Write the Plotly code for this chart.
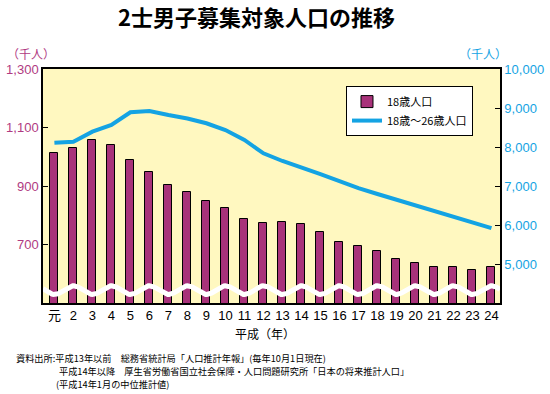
import numpy as np
import plotly.graph_objects as go

# ---- data ----
years = ["元", "2", "3", "4", "5", "6", "7", "8", "9", "10", "11", "12",
         "13", "14", "15", "16", "17", "18", "19", "20", "21", "22", "23", "24"]
pop18 = [1012, 1030, 1056, 1040, 990, 949, 902, 880, 848, 824, 787, 773,
         777, 769, 742, 710, 696, 678, 650, 638, 624, 624, 613, 624]
pop18_26 = [8108, 8136, 8392, 8564, 8890, 8923, 8821, 8731, 8608, 8436, 8180, 7838,
            7641, 7480, 7303, 7128, 6944, 6795, 6646, 6500, 6351, 6203, 6054, 5920]
left_ticks = [700, 900, 1100, 1300]
left_ticktext = ["700", "900", "1,100", "1,300"]
right_ticks = [5000, 6000, 7000, 8000, 9000, 10000]
right_ticktext = ["5,000", "6,000", "7,000", "8,000", "9,000", "10,000"]

xpos = list(range(len(years)))

MAGENTA = "#A8327A"
MAG_TXT = "#B03A82"
BLUE = "#14A3E3"
BG = "#FFF8C0"
FONT = "Liberation Sans, Noto Sans CJK JP"
JFONT = "Noto Sans CJK JP"

fig = go.Figure()
fig.add_trace(go.Bar(
    x=xpos, y=pop18, name="18歳人口", width=0.42,
    marker=dict(color=MAGENTA, line=dict(color="black", width=1)),
    yaxis="y",
))

# decorative axis-break wave
xr = (-0.6, 23.45)
wx = np.linspace(xr[0], xr[1], 400)
wy = 544 + 15 * np.cos(np.pi * (wx - 1))
fig.add_trace(go.Scatter(
    x=wx, y=wy, mode="lines", line=dict(color="white", width=5),
    showlegend=False, hoverinfo="skip", yaxis="y",
))

fig.add_trace(go.Scatter(
    x=xpos, y=pop18_26, name="18歳～26歳人口", mode="lines",
    line=dict(color=BLUE, width=4), yaxis="y2",
))

fig.update_layout(
    width=550, height=394,
    margin=dict(l=43, r=50, t=69, b=91),
    paper_bgcolor="white", plot_bgcolor=BG,
    font=dict(family=FONT, size=13, color="black"),
    bargap=0,
    xaxis=dict(
        range=list(xr), tickmode="array", tickvals=xpos, ticktext=years,
        showline=True, linecolor="black", linewidth=1.5, mirror=True,
        ticks="", showgrid=False, zeroline=False, automargin=False,
        tickfont=dict(family=FONT, size=13, color="black"),
    ),
    yaxis=dict(
        range=[500, 1300], tickmode="array", tickvals=left_ticks, ticktext=left_ticktext,
        showline=True, linecolor="black", linewidth=1.5, automargin=False,
        ticks="inside", ticklen=5, tickcolor="black", tickwidth=1.2,
        showgrid=False, zeroline=False,
        tickfont=dict(family=FONT, size=13, color=MAG_TXT),
    ),
    yaxis2=dict(
        range=[4000, 10000], overlaying="y", side="right", automargin=False,
        tickmode="array", tickvals=right_ticks, ticktext=right_ticktext,
        showline=True, linecolor="black", linewidth=1.5,
        ticks="inside", ticklen=5, tickcolor="black", tickwidth=1.2,
        showgrid=False, zeroline=False,
        tickfont=dict(family=FONT, size=13, color=BLUE),
    ),
    legend=dict(
        x=0.663, y=0.927, xanchor="left", yanchor="top",
        bgcolor="white", bordercolor="black", borderwidth=1,
        font=dict(family=JFONT, size=11, color="black"),
        tracegroupgap=0, itemwidth=30,
    ),
    showlegend=True,
)

ann = [
    dict(text="<b>2士男子募集対象人口の推移</b>", x=0.468, y=1.226, size=22, color="black"),
    dict(text="（千人）", x=-0.026, y=1.068, size=12, color=MAG_TXT),
    dict(text="（千人）", x=0.963, y=1.068, size=12, color=BLUE),
    dict(text="平成（年）", x=0.486, y=-0.132, size=12, color="black"),
]
for a in ann:
    fig.add_annotation(text=a["text"], x=a["x"], y=a["y"], xref="paper", yref="paper",
                       xanchor="center", yanchor="middle", showarrow=False,
                       font=dict(family=JFONT, size=a["size"], color=a["color"]))

src = [
    ("資料出所:平成13年以前　総務省統計局「人口推計年報」(毎年10月1日現在)", -0.0613, -0.235),
    ("平成14年以降　厚生省労働省国立社会保障・人口問題研究所「日本の将来推計人口」", 0.0328, -0.2906),
    ("(平成14年1月の中位推計値)", 0.026, -0.3462),
]
for t, x, y in src:
    fig.add_annotation(text=t, x=x, y=y, xref="paper", yref="paper",
                       xanchor="left", yanchor="middle", showarrow=False, borderpad=0,
                       font=dict(family=JFONT, size=9.2, color="black"))

fig.write_html("out.html",
               config={"displayModeBar": False},
               post_script="document.body.style.margin='0';document.body.style.padding='0';")
